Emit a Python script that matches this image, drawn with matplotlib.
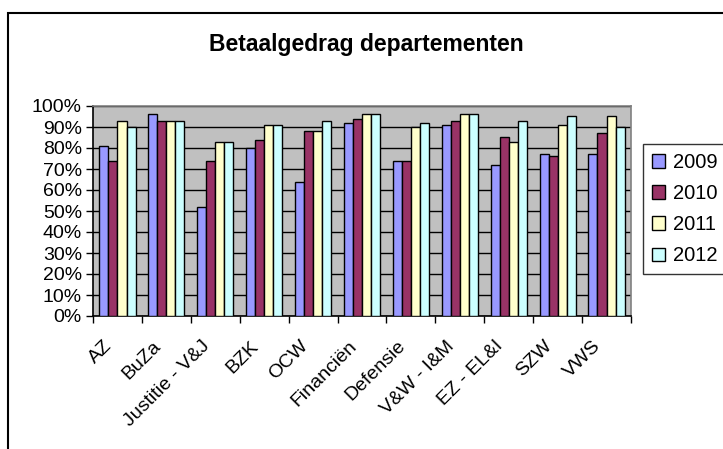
import numpy as np
import matplotlib.pyplot as plt
import matplotlib.transforms as mtransforms
from matplotlib.patches import Rectangle
from matplotlib.ticker import FixedLocator, PercentFormatter

plt.rcParams['font.family'] = ['Liberation Sans', 'DejaVu Sans']

# data (percentages)
departments = ["AZ", "BuZa", "Justitie - V&J", "BZK", "OCW", "Financiën",
               "Defensie", "V&W - I&M", "EZ - EL&I", "SZW", "VWS"]
years = ["2009", "2010", "2011", "2012"]
v2009 = [81, 96, 52, 80, 64, 92, 74, 91, 72, 77, 77]
v2010 = [74, 93, 74, 84, 88, 94, 74, 93, 85, 76, 87]
v2011 = [93, 93, 83, 91, 88, 96, 90, 96, 83, 91, 95]
v2012 = [90, 93, 83, 91, 93, 96, 92, 96, 93, 95, 90]
colors = ["#9999FF", "#993366", "#FFFFCC", "#CCFFFF"]

fig = plt.figure(figsize=(7.23, 4.49), dpi=100)
# chart border (only left and top visible in the reference)
fig.patches.append(Rectangle((8 / 723, -0.2), 1.2, (449 - 13) / 449 + 0.2,
                             transform=fig.transFigure, fill=False,
                             edgecolor="black", linewidth=1.5))

ax = fig.add_axes([93 / 723, 1 - 316 / 449, 538 / 723, 210 / 449])
ax.set_facecolor("#C0C0C0")

x = np.arange(len(departments)) + 0.5
w = 0.185
for i, (vals, c, lab) in enumerate(zip([v2009, v2010, v2011, v2012], colors, years)):
    ax.bar(x + (i - 1.5) * w, vals, width=w, color=c, edgecolor="black",
           linewidth=1.0, label=lab, zorder=3)

ax.set_xlim(0, len(departments))
ax.set_ylim(0, 100)
ax.set_yticks(np.arange(0, 101, 10))
ax.yaxis.set_major_formatter(PercentFormatter(decimals=0))
ax.grid(axis="y", color="black", linewidth=1.0, zorder=0)
ax.set_axisbelow(True)

ax.set_xticks(x)
ax.set_xticklabels(departments, rotation=45, ha="right", rotation_mode="anchor",
                   fontsize=14)
ax.xaxis.set_minor_locator(FixedLocator(np.arange(0, len(departments) + 1)))
ax.tick_params(axis="x", which="major", length=0, pad=12)
ax.tick_params(axis="x", which="minor", length=5, width=1, direction="out")
ax.tick_params(axis="y", length=5, width=1, labelsize=14, pad=3)

# shift the rotated labels a bit left/down like the original
shift = mtransforms.ScaledTranslation(-0.14, -0.05, fig.dpi_scale_trans)
for lbl in ax.get_xticklabels():
    lbl.set_transform(lbl.get_transform() + shift)

for s in ["left", "bottom"]:
    ax.spines[s].set_color("black")
    ax.spines[s].set_linewidth(1.2)
for s in ["top", "right"]:
    ax.spines[s].set_color("#808080")
    ax.spines[s].set_linewidth(1.2)

fig.text(366 / 723, 1 - 45 / 449, "Betaalgedrag departementen", ha="center",
         va="center", fontsize=16.5, fontweight="bold")

leg = fig.legend(loc="upper left", bbox_to_anchor=(643 / 723, 1 - 144 / 449),
                 fontsize=14.5, frameon=True, fancybox=False, edgecolor="black",
                 handlelength=0.65, handleheight=0.65, handletextpad=0.4,
                 labelspacing=0.6, borderpad=0.45, borderaxespad=0)
leg.get_frame().set_linewidth(1.0)

fig.savefig("out.png", dpi=100)
